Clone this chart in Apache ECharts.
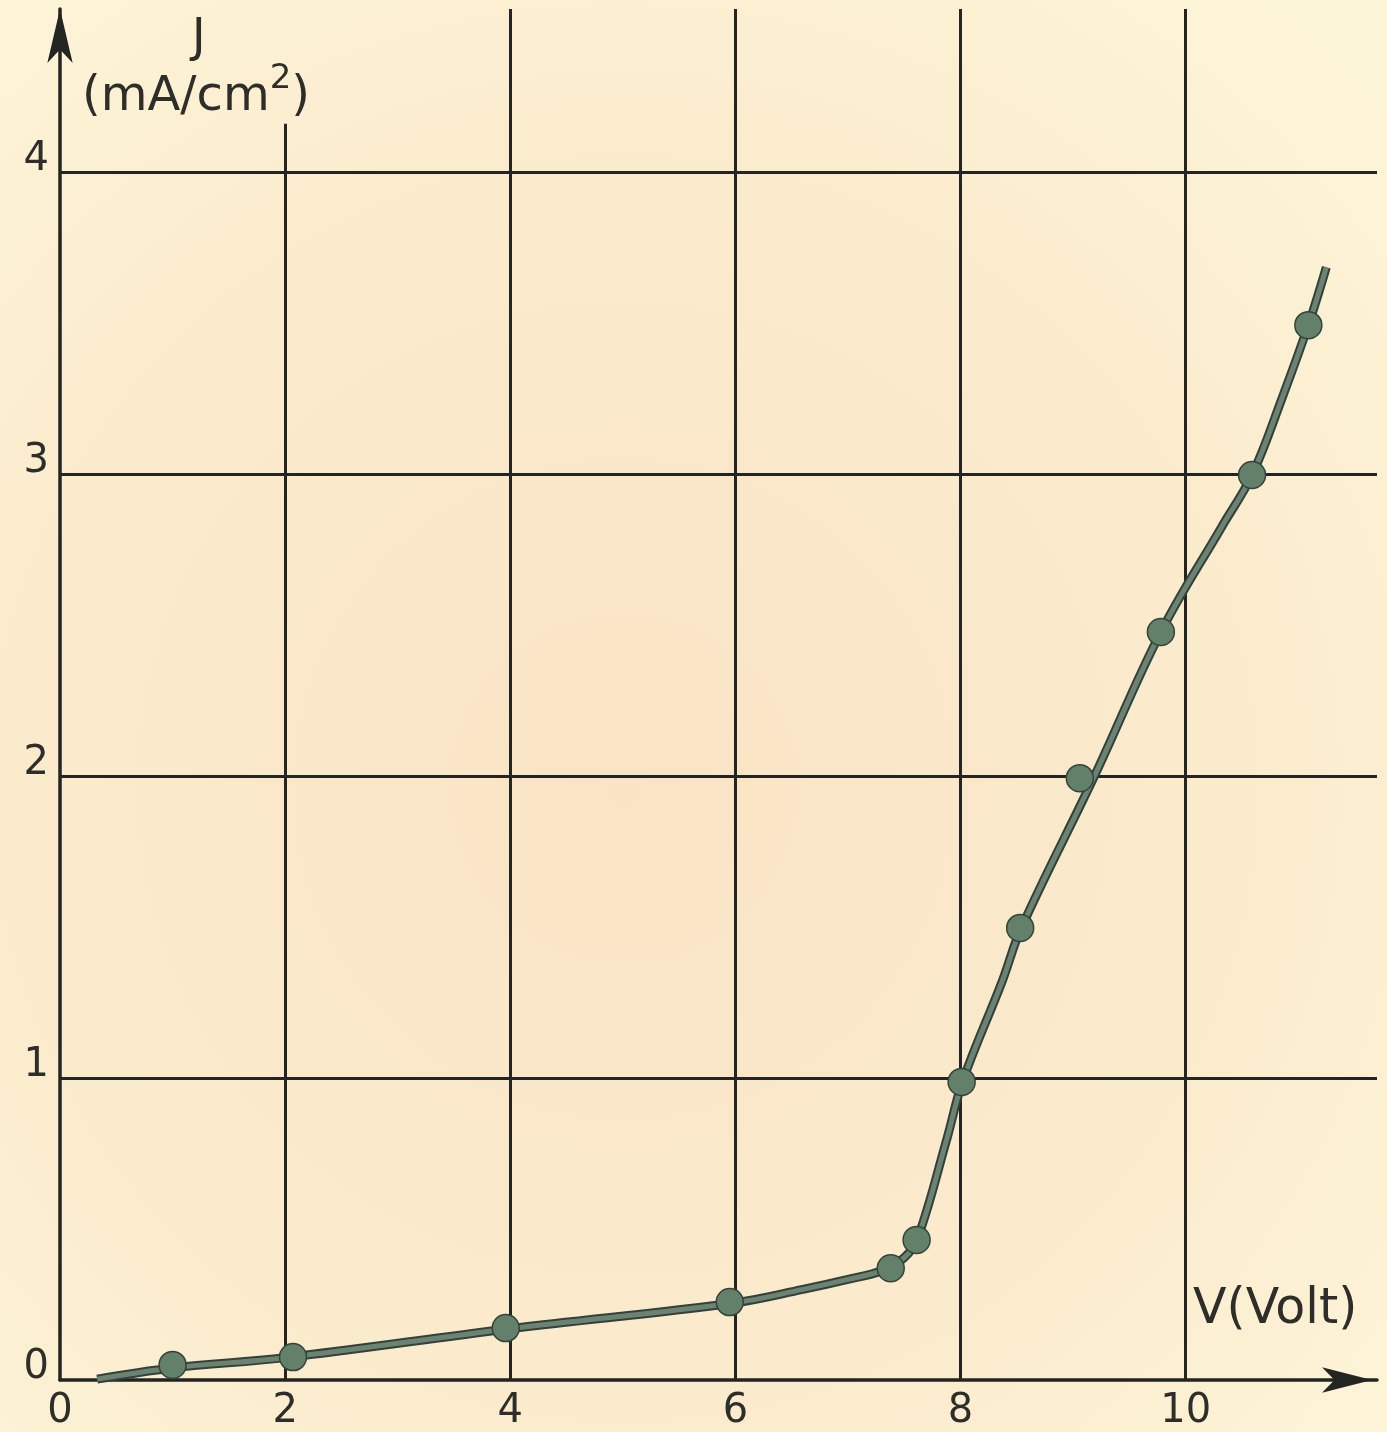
<!DOCTYPE html>
<html>
<head>
<meta charset="utf-8">
<script src="https://cdn.jsdelivr.net/npm/echarts@6/dist/echarts.min.js"></script>
<style>
  html, body { margin: 0; padding: 0; background: #fcf1d6; }
  #chart { width: 1387px; height: 1432px; }
</style>
</head>
<body>
<div id="chart"></div>
<script>
// Tick values shown on each axis
const voltTicks = [0, 2, 4, 6, 8, 10];
const currentTicks = [0, 1, 2, 3, 4];

// Measured points: applied voltage (V) and current density J (mA/cm2)
const measuredV = [1.0, 2.07, 3.96, 5.95, 7.38, 7.61, 8.01, 8.53, 9.06, 9.78, 10.59, 11.09];
const measuredJ = [0.05, 0.076, 0.172, 0.258, 0.37, 0.464, 0.987, 1.497, 1.993, 2.477, 2.997, 3.493];

// Hand-drawn characteristic curve through the measurements
const curveV = [0.33, 1.0, 2.0, 4.0, 6.0, 6.6, 7.0, 7.3, 7.5, 7.62, 7.88, 8.02, 8.37, 8.54, 9.19, 9.78, 10.32, 10.59, 10.86, 11.09, 11.25];
const curveJ = [0.003, 0.04, 0.074, 0.17, 0.256, 0.3, 0.333, 0.362, 0.405, 0.47, 0.80, 0.99, 1.32, 1.497, 2.0, 2.477, 2.825, 2.997, 3.255, 3.493, 3.685];

const V_MAX = 11.7;
const J_MAX = 4.54;
const UNIT_CLEARANCE = 4.16;   // the V = 2 rule stops below the unit label

const INK = '#222521';
const TEXT = '#2d2e2a';
const MARK_FILL = '#62806a';
const MARK_EDGE = '#34443a';
const FONT = '"DejaVu Sans", "Liberation Sans", sans-serif';

const curveData = curveV.map((v, i) => [v, curveJ[i]]);
const pointData = measuredV.map((v, i) => [v, measuredJ[i]]);

// vertical rules at the labelled voltages
const gridRules = voltTicks.filter(v => v > 0).map((v, i) => [
  { coord: [v, i === 0 ? UNIT_CLEARANCE : J_MAX] },
  { coord: [v, 0] }
]);

const chart = echarts.init(document.getElementById('chart'), null, { renderer: 'canvas' });

chart.setOption({
  animation: false,
  backgroundColor: {
    type: 'radial', x: 0.45, y: 0.55, r: 0.75,
    colorStops: [
      { offset: 0, color: '#f9e3c5' },
      { offset: 0.6, color: '#fbebcd' },
      { offset: 1, color: '#fdf5d8' }
    ]
  },
  grid: { left: 60, right: 10, top: 9, bottom: 52, containLabel: false },
  xAxis: {
    type: 'value',
    min: 0, max: V_MAX, interval: 2,
    axisLine: {
      show: true,
      lineStyle: { color: INK, width: 3.5 },
      symbol: ['none', 'arrow'],
      symbolSize: [19, 50],
      symbolOffset: [0, -5]
    },
    axisTick: { show: false },
    splitLine: { show: false },
    axisLabel: {
      margin: 12,
      fontSize: 40,
      fontFamily: FONT,
      color: TEXT,
      showMaxLabel: false,
      formatter: v => voltTicks.includes(v) ? String(v) : ''
    }
  },
  yAxis: {
    type: 'value',
    min: 0, max: J_MAX, interval: 1,
    axisLine: {
      show: true,
      lineStyle: { color: INK, width: 3.5 },
      symbol: ['none', 'arrow'],
      symbolSize: [19, 54],
      symbolOffset: [0, 0]
    },
    axisTick: { show: false },
    splitLine: {
      show: true,
      showMinLine: false,
      showMaxLine: false,
      lineStyle: { color: INK, width: 3 }
    },
    axisLabel: {
      margin: 11,
      fontSize: 40,
      fontFamily: FONT,
      color: TEXT,
      verticalAlign: 'bottom',
      lineHeight: 24,
      showMaxLabel: false,
      formatter: v => currentTicks.includes(v) ? String(v) : ''
    }
  },
  series: [
    {
      // dark edge of the pen stroke
      type: 'line',
      data: curveData,
      showSymbol: false,
      smooth: 0.38,
      lineStyle: { color: '#33413a', width: 9 },
      silent: true,
      z: 3,
      markLine: {
        silent: true,
        symbol: 'none',
        label: { show: false },
        lineStyle: { color: INK, width: 3, type: 'solid' },
        data: gridRules,
        z: 1
      }
    },
    {
      // pen stroke core
      type: 'line',
      data: curveData,
      showSymbol: false,
      smooth: 0.38,
      lineStyle: { color: '#6b8372', width: 5 },
      silent: true,
      z: 4
    },
    {
      type: 'scatter',
      data: pointData,
      symbol: 'circle',
      symbolSize: 27,
      itemStyle: { color: MARK_FILL, borderColor: MARK_EDGE, borderWidth: 1.5, opacity: 1 },
      z: 5
    }
  ],
  graphic: [
    {
      type: 'text',
      left: 192, top: 16,
      style: { text: 'J', font: '46px ' + FONT, fill: TEXT }
    },
    {
      type: 'text',
      left: 82, top: 62,
      style: {
        text: '{a|(mA/cm}{s|2}{a|)}',
        fill: TEXT,
        rich: {
          a: { fontSize: 48, fontFamily: FONT, lineHeight: 60, verticalAlign: 'bottom', fill: TEXT },
          s: { fontSize: 34, fontFamily: FONT, lineHeight: 60, verticalAlign: 'top', fill: TEXT }
        }
      }
    },
    {
      type: 'text',
      left: 1193, top: 1286,
      style: { text: 'V(Volt)', font: '49px ' + FONT, fill: TEXT }
    }
  ]
});
</script>
</body>
</html>
